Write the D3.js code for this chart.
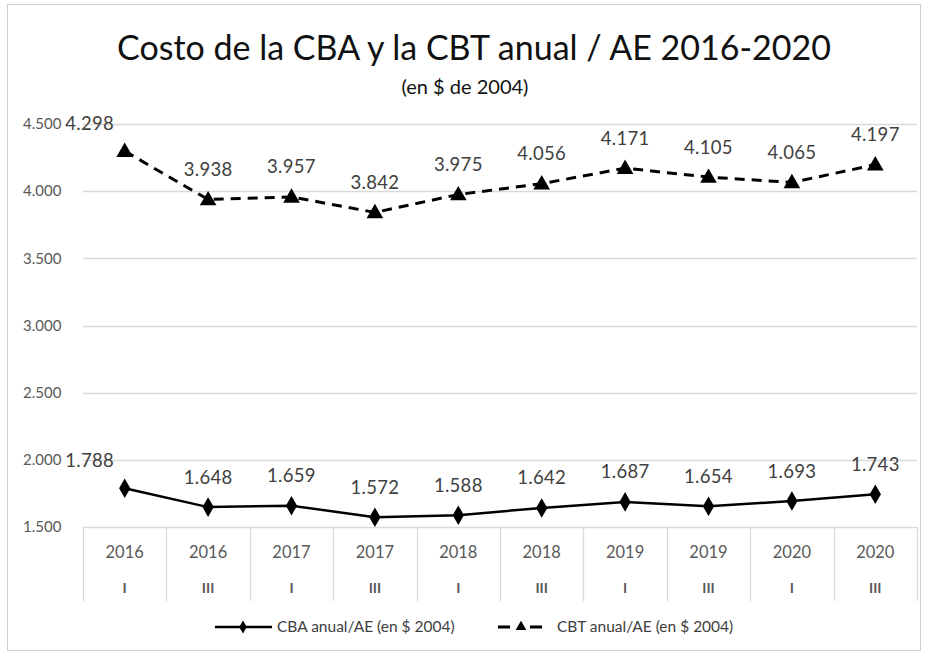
<!DOCTYPE html>
<html>
<head>
<meta charset="utf-8">
<script src="https://cdn.jsdelivr.net/npm/d3@7/dist/d3.min.js"></script>
<style>
  html, body { margin: 0; padding: 0; background: #fff; }
  svg { display: block; font-family: Lato, "Open Sans", sans-serif; }
</style>
</head>
<body>
<svg id="chart" width="926" height="655"></svg>
<script>
const years = ["2016","2016","2017","2017","2018","2018","2019","2019","2020","2020"];
const semesters = ["I","III","I","III","I","III","I","III","I","III"];
const cba = [1788, 1648, 1659, 1572, 1588, 1642, 1687, 1654, 1693, 1743];
const cbt = [4298, 3938, 3957, 3842, 3975, 4056, 4171, 4105, 4065, 4197];
const yTicks = [1500, 2000, 2500, 3000, 3500, 4000, 4500];
const seriesNames = ["CBA anual/AE (en $ 2004)", "CBT anual/AE (en $ 2004)"];
const titleText = "Costo de la CBA y la CBT anual / AE 2016-2020";
const subtitleText = "(en $ de 2004)";

const svg = d3.select("#chart");
const m = { left: 83, right: 917, top: 124, bottom: 527 };
const fmt = v => d3.format(",.0f")(v).replace(/,/g, ".");

// chart border
svg.append("rect").attr("x", 7.5).attr("y", 4.5).attr("width", 913).attr("height", 646)
  .attr("fill", "#fff").attr("stroke", "#d0d0d0").attr("stroke-width", 1);

const idx = d3.range(years.length);
const x = d3.scaleBand().domain(idx).range([m.left, m.right]).padding(0);
const y = d3.scaleLinear().domain([1500, 4500]).range([m.bottom, m.top]);
const cx = i => x(i) + x.bandwidth() / 2;

// gridlines
svg.append("g").selectAll("line").data(yTicks).join("line")
  .attr("x1", m.left).attr("x2", m.right)
  .attr("y1", d => Math.round(y(d)) + 0.5).attr("y2", d => Math.round(y(d)) + 0.5)
  .attr("stroke", "#d9d9d9").attr("stroke-width", 1.3);

// y tick labels
svg.append("g").selectAll("text").data(yTicks).join("text")
  .attr("x", 23).attr("y", d => y(d)).attr("dy", "0.35em")
  .attr("font-size", 15).attr("fill", "#595959")
  .text(d => fmt(d));

// category dividers
const divs = d3.range(years.length + 1);
svg.append("g").selectAll("line").data(divs).join("line")
  .attr("x1", d => d < years.length ? Math.round(x(d)) + 0.5 : m.right + 0.5)
  .attr("x2", d => d < years.length ? Math.round(x(d)) + 0.5 : m.right + 0.5)
  .attr("y1", m.bottom).attr("y2", 601)
  .attr("stroke", "#d9d9d9").attr("stroke-width", 1.3);

// category labels
svg.append("g").selectAll("text").data(idx).join("text")
  .attr("x", cx).attr("y", 552).attr("dy", "0.35em").attr("text-anchor", "middle")
  .attr("font-size", 16.5).attr("fill", "#595959").text(i => years[i]);
svg.append("g").selectAll("text").data(idx).join("text")
  .attr("x", cx).attr("y", 588).attr("dy", "0.35em").attr("text-anchor", "middle")
  .attr("font-size", 14).attr("font-weight", "bold").attr("fill", "#595959").text(i => semesters[i]);

// lines
const line = d3.line().x((d, i) => cx(i)).y(d => y(d));
svg.append("path").datum(cbt).attr("d", line).attr("fill", "none")
  .attr("stroke", "#000").attr("stroke-width", 3).attr("stroke-dasharray", "10,7");
svg.append("path").datum(cba).attr("d", line).attr("fill", "none")
  .attr("stroke", "#000").attr("stroke-width", 2.5);

const tri = d3.symbol().type(d3.symbolTriangle).size(120);
const dia = d3.symbol().type(d3.symbolDiamond).size(110);

svg.append("g").selectAll("path").data(cbt).join("path")
  .attr("d", tri).attr("transform", (d, i) => `translate(${cx(i)},${y(d) + 1})`).attr("fill", "#000");
svg.append("g").selectAll("path").data(cba).join("path")
  .attr("d", dia).attr("transform", (d, i) => `translate(${cx(i)},${y(d)})`).attr("fill", "#000");

// data labels
function labels(data, dy) {
  svg.append("g").selectAll("text").data(data).join("text")
    .attr("x", (d, i) => cx(i) + (i === 0 ? -35 : 0))
    .attr("y", (d, i) => y(d) + (i === 0 ? dy + 2 : dy))
    .attr("dy", "0.35em").attr("text-anchor", "middle")
    .attr("font-size", 18.5).attr("letter-spacing", 0.3).attr("fill", "#404040")
    .text(d => fmt(d));
}
labels(cbt, -30);
labels(cba, -30);

// title
svg.append("text").attr("x", 474).attr("y", 48).attr("dy", "0.35em").attr("text-anchor", "middle")
  .attr("font-size", 34).attr("fill", "#111").text(titleText);
svg.append("text").attr("x", 465).attr("y", 87).attr("dy", "0.35em").attr("text-anchor", "middle")
  .attr("font-size", 20).attr("fill", "#111").text(subtitleText);

// legend
const lg = svg.append("g");
const ly = 627;
lg.append("line").attr("x1", 215).attr("x2", 272).attr("y1", ly).attr("y2", ly)
  .attr("stroke", "#000").attr("stroke-width", 2.5);
lg.append("path").attr("d", d3.symbol().type(d3.symbolDiamond).size(50))
  .attr("transform", `translate(243,${ly})`).attr("fill", "#000");
lg.append("text").attr("x", 277).attr("y", ly).attr("dy", "0.35em")
  .attr("font-size", 15.5).attr("fill", "#404040").text(seriesNames[0]);
lg.append("line").attr("x1", 498).attr("x2", 542).attr("y1", ly).attr("y2", ly)
  .attr("stroke", "#000").attr("stroke-width", 3).attr("stroke-dasharray", "12,20");
lg.append("path").attr("d", d3.symbol().type(d3.symbolTriangle).size(50))
  .attr("transform", `translate(521,${ly})`).attr("fill", "#000");
lg.append("text").attr("x", 557).attr("y", ly).attr("dy", "0.35em")
  .attr("font-size", 15.5).attr("fill", "#404040").text(seriesNames[1]);
</script>
</body>
</html>
